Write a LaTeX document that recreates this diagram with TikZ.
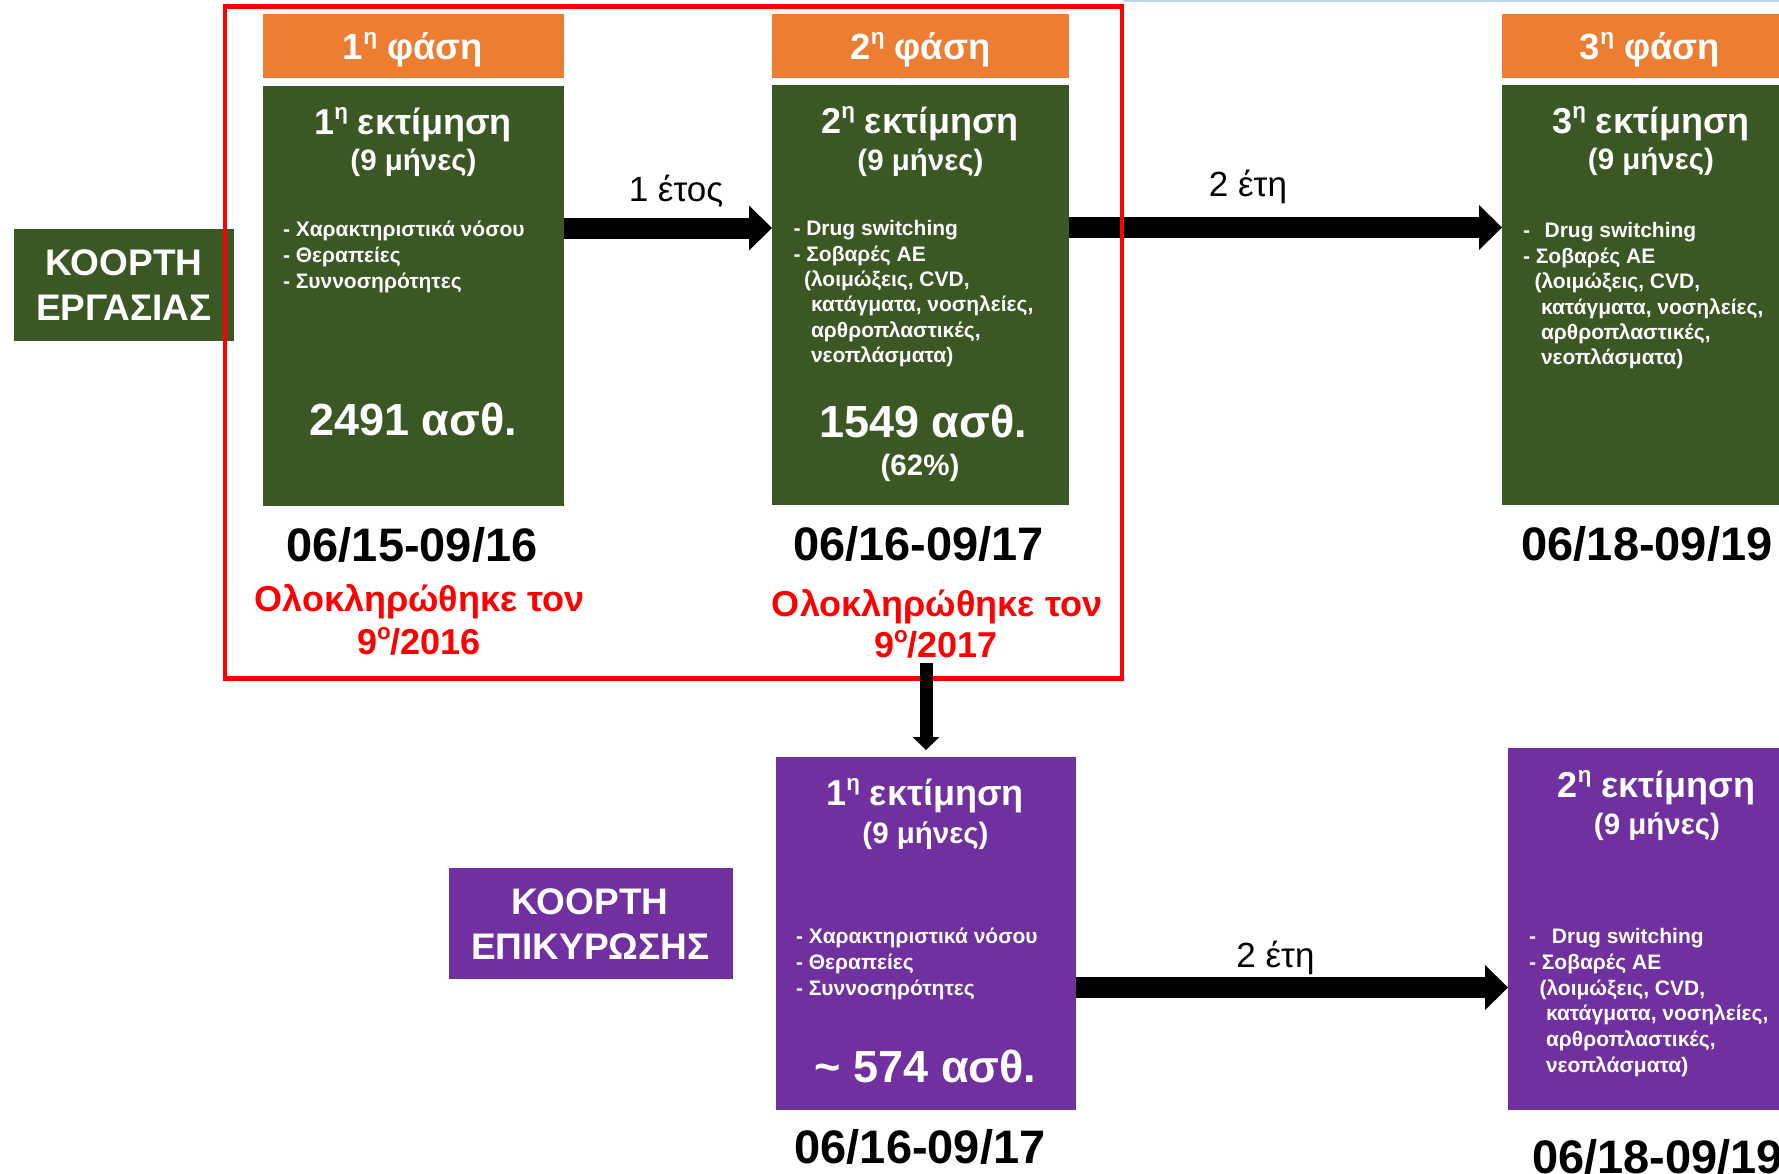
\documentclass[tikz,border=0pt]{standalone}
\usepackage{fontspec}
\setmainfont{Liberation Sans}
\usetikzlibrary{arrows.meta}
\definecolor{phaseorange}{RGB}{237,125,49}
\definecolor{evalgreen}{RGB}{58,87,36}
\definecolor{cohortpurple}{RGB}{112,48,160}
\definecolor{toplineblue}{RGB}{189,215,238}
\newcommand\setsz[1]{\fontsize{#1pt}{#1pt}\selectfont}
\newcommand\upidx[1]{\raisebox{0.4em}{\scalebox{0.62}{#1}}}
\begin{document}
\begin{tikzpicture}[x=1pt,y=-1pt,
  box/.style={anchor=north west,inner sep=0pt,outer sep=0pt,draw=none},
  phasebox/.style={box,fill=phaseorange},
  evalbox/.style={box,fill=evalgreen},
  valbox/.style={box,fill=cohortpurple},
  tx/.style={inner sep=0pt,outer sep=0pt,anchor=base},
  phasetxt/.style={tx,text=white,font=\bfseries\setsz{36.5}},
  titletxt/.style={tx,text=white,font=\bfseries\setsz{36}},
  monthtxt/.style={tx,text=white,font=\bfseries\setsz{29.5}},
  bullettxt/.style={tx,anchor=base west,text=white,font=\bfseries\setsz{21}},
  counttxt/.style={tx,text=white,font=\bfseries\setsz{45}},
  datetxt/.style={tx,text=black,font=\bfseries\setsz{47}},
  donetxt/.style={tx,text=red,font=\bfseries\setsz{36}},
  cohorttxt/.style={tx,text=white,font=\bfseries\setsz{37}},
  steptxt/.style={tx,text=black,font=\setsz{35}},
  blockarrow/.style={line width=21pt,-{Triangle[length=23pt,width=45pt,line width=0pt]}},
  downarrow/.style={line width=13pt,-{Triangle[length=13pt,width=27pt,line width=0pt]}}
]
\useasboundingbox (0,0) rectangle (1779,1173);
\clip (0,0) rectangle (1779,1173);
\fill[white] (0,0) rectangle (1779,1173);
\draw[toplineblue,line width=1.5pt] (1123,1) -- (1779,1);

% boxes
\node[phasebox,minimum width=301pt,minimum height=64pt] (o1) at (263,14) {};
\node[evalbox,minimum width=301pt,minimum height=420pt] (g1) at (263,86) {};
\node[phasebox,minimum width=297pt,minimum height=64pt] (o2) at (772,14) {};
\node[evalbox,minimum width=297pt,minimum height=420pt] (g2) at (772,85) {};
\node[phasebox,minimum width=297pt,minimum height=64pt] (o3) at (1502,14) {};
\node[evalbox,minimum width=297pt,minimum height=420pt] (g3) at (1502,85) {};
\node[evalbox,minimum width=220pt,minimum height=112pt] (c1) at (14,229) {};
\node[valbox,minimum width=284pt,minimum height=111pt] (c2) at (449,868) {};
\node[valbox,minimum width=300pt,minimum height=353pt] (p1) at (776,757) {};
\node[valbox,minimum width=297pt,minimum height=362pt] (p2) at (1508,748) {};

% horizontal arrows
\coordinate (a1s) at (g1.east |- 0,228);
\coordinate (a1e) at (g2.west |- 0,228);
\coordinate (a2s) at (g2.east |- 0,227.5);
\coordinate (a2e) at (g3.west |- 0,227.5);
\coordinate (a3s) at (p1.east |- 0,987.5);
\coordinate (a3e) at (p2.west |- 0,987.5);
\draw[blockarrow] (a1s) -- (a1e);
\draw[blockarrow] (a2s) -- (a2e);
\draw[blockarrow] (a3s) -- (a3e);

% red frame
\node[box,draw=red,line width=4.5pt,minimum width=897pt,minimum height=672pt] (frame) at (225,6.5) {};

% down arrow
\coordinate (dstart) at (p1.north |- 0,663);
\draw[downarrow] (dstart) -- ([yshift=7pt]p1.north);

% phase labels
\node[phasetxt] (o1t) at (413,59) {1\upidx{η} φάση};
\node[phasetxt] (o2t) at (920.5,59) {2\upidx{η} φάση};
\node[phasetxt] (o3t) at (1650,59) {3\upidx{η} φάση};

% box 1
\node[titletxt] (g1t) at (413,134) {1\upidx{η} εκτίμηση};
\node[monthtxt] (g1m) at (413.5,170) {(9 μήνες)};
\node[bullettxt] (g1b1) at (283,236.5) {- Χαρακτηριστικά νόσου};
\node[bullettxt] (g1b2) at (283,262.5) {- Θεραπείες};
\node[bullettxt] (g1b3) at (283,288.5) {- Συννοσηρότητες};
\node[counttxt] (g1c) at (413,435) {2491 ασθ.};
\node[datetxt] (d1) at (412,561) {06/15-09/16};
\node[donetxt] (r1a) at (419.5,611) {Ολοκληρώθηκε τον};
\node[donetxt] (r1b) at (419,654) {9\upidx{ο}/2016};

% box 2
\node[titletxt] (g2t) at (920,133) {2\upidx{η} εκτίμηση};
\node[monthtxt] (g2m) at (920.5,170) {(9 μήνες)};
\node[bullettxt] (g2b1) at (793.5,235) {- Drug switching};
\node[bullettxt] (g2b2) at (793.5,261) {- Σοβαρές ΑΕ};
\node[bullettxt] (g2b3) at (804,286) {(λοιμώξεις, CVD,};
\node[bullettxt] (g2b4) at (811,311.5) {κατάγματα, νοσηλείες,};
\node[bullettxt] (g2b5) at (811,337) {αρθροπλαστικές,};
\node[bullettxt] (g2b6) at (811,362.5) {νεοπλάσματα)};
\node[counttxt] (g2c) at (923,437.5) {1549 ασθ.};
\node[monthtxt] (g2p) at (920,475) {(62\%)};
\node[datetxt] (d2) at (918.5,560) {06/16-09/17};
\node[donetxt] (r2a) at (937,616) {Ολοκληρώθηκε τον};
\node[donetxt] (r2b) at (936,657) {9\upidx{ο}/2017};

% box 3
\node[titletxt] (g3t) at (1651,133) {3\upidx{η} εκτίμηση};
\node[monthtxt] (g3m) at (1651,169) {(9 μήνες)};
\node[bullettxt] (g3b1) at (1523,237) {-\kern14.6pt Drug switching};
\node[bullettxt] (g3b2) at (1523,263) {- Σοβαρές ΑΕ};
\node[bullettxt] (g3b3) at (1534.5,288) {(λοιμώξεις, CVD,};
\node[bullettxt] (g3b4) at (1541,314) {κατάγματα, νοσηλείες,};
\node[bullettxt] (g3b5) at (1541,339) {αρθροπλαστικές,};
\node[bullettxt] (g3b6) at (1541,364.5) {νεοπλάσματα)};
\node[datetxt] (d3) at (1647,560) {06/18-09/19};

% cohort labels
\node[cohorttxt] (c1a) at (124,275) {ΚΟΟΡΤΗ};
\node[cohorttxt] (c1b) at (124,320) {ΕΡΓΑΣΙΑΣ};
\node[cohorttxt] (c2a) at (590,914) {ΚΟΟΡΤΗ};
\node[cohorttxt] (c2b) at (590.5,959) {ΕΠΙΚΥΡΩΣΗΣ};

% arrow labels
\node[steptxt] (s1) at (676,201) {1 έτος};
\node[steptxt] (s2) at (1248,196) {2 έτη};
\node[steptxt] (s3) at (1275.5,967) {2 έτη};

% purple box 1
\node[titletxt] (p1t) at (925,805) {1\upidx{η} εκτίμηση};
\node[monthtxt] (p1m) at (925.5,843) {(9 μήνες)};
\node[bullettxt] (p1b1) at (796,943) {- Χαρακτηριστικά νόσου};
\node[bullettxt] (p1b2) at (796,969) {- Θεραπείες};
\node[bullettxt] (p1b3) at (796,995) {- Συννοσηρότητες};
\node[counttxt] (p1c) at (925.5,1082) {\textasciitilde{} 574 ασθ.};
\node[datetxt] (d4) at (920,1163) {06/16-09/17};

% purple box 2
\node[titletxt] (p2t) at (1656.5,797) {2\upidx{η} εκτίμηση};
\node[monthtxt] (p2m) at (1657,834) {(9 μήνες)};
\node[bullettxt] (p2b1) at (1529,943) {-\kern16pt Drug switching};
\node[bullettxt] (p2b2) at (1529,969) {- Σοβαρές ΑΕ};
\node[bullettxt] (p2b3) at (1539.5,995) {(λοιμώξεις, CVD,};
\node[bullettxt] (p2b4) at (1546,1020.5) {κατάγματα, νοσηλείες,};
\node[bullettxt] (p2b5) at (1546,1046) {αρθροπλαστικές,};
\node[bullettxt] (p2b6) at (1546,1072) {νεοπλάσματα)};
\node[datetxt,anchor=base west] (d5) at (1532,1173) {06/18-09/19};
\end{tikzpicture}
\end{document}
